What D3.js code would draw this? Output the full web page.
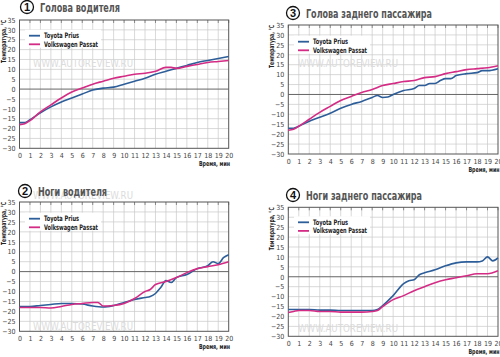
<!DOCTYPE html>
<html><head><meta charset="utf-8">
<script src="https://cdn.jsdelivr.net/npm/d3@7"></script>
<style>body{margin:0;background:#fff}svg{display:block}</style>
</head><body>
<svg id="c" width="500" height="357"></svg>
<script>
const xTicks = d3.range(0, 21);
const yTicks = [35,30,25,20,15,10,5,0,-5,-10,-15,-20,-25,-30];
const seriesNames = ["Toyota Prius", "Volkswagen Passat"];
const titles = ["Голова водителя", "Ноги водителя", "Голова заднего пассажира", "Ноги заднего пассажира"];
const numbers = ["1", "2", "3", "4"];

// Panel 1: Голова водителя
const p1PriusT = [0,0.5,1,2,3,4,5,6,7,8,9,10,11,12,13,14,15,16,17,18,19,20];
const p1PriusV = [-17,-17,-15.5,-12,-9,-6.5,-4.5,-2.5,-0.5,0.5,1,2.5,4,5.5,7.5,9,10.5,12,13.5,14.5,15.5,16.5];
const p1PassatT = [0,0.5,1,2,3,4,5,6,7,8,9,10,11,12,13,14,14.5,15,16,17,18,19,20];
const p1PassatV = [-18,-17.5,-16,-11.5,-8,-4.5,-1.5,0.5,2.5,4,5.5,6.5,7.5,8,9,11,11,10.5,11.5,12.5,13.5,14,14.5];

// Panel 2: Ноги водителя
const p2PriusT = [0,1,2,3,4,5,6,7,8,9,10,11,12,12.5,13,13.5,14,14.5,15,16,17,18,18.5,19,19.5,20];
const p2PriusV = [-17.5,-17.5,-17,-16.5,-16,-16,-16.3,-17.3,-17.8,-17,-15.5,-14,-13,-12.5,-11,-8,-4.5,-5.5,-3,-1.5,1.5,3,5,4,7,8.5];
const p2PassatT = [0,1,2,3,4,5,6,7,7.5,8,9,10,11,12,12.5,13,14,15,16,17,18,19,20];
const p2PassatV = [-18,-18,-18,-18.3,-17.5,-16.5,-16,-15.5,-15.5,-17.3,-17,-16,-13.5,-10,-9,-6.5,-5,-3,-0.5,1.5,2.5,3.5,5];

// Panel 3: Голова заднего пассажира
const p3PriusT = [0,0.5,1,2,3,4,5,6,7,8,8.5,9,9.5,10,11,12,12.5,13,13.5,14,14.5,15,15.5,16,17,18,18.5,19,20];
const p3PriusV = [-17,-17,-16,-13.5,-11.5,-9.5,-7,-5,-3.5,-1.5,-0.5,-1.5,-1.3,0,2,3,4.5,4.5,5.5,5.5,7,8,8,9.5,10.5,11,12,12,13];
const p3PassatT = [0,0.5,1,2,3,4,5,6,7,8,9,10,11,12,13,14,15,16,17,18,19,20];
const p3PassatV = [-18,-17.5,-16,-12.5,-9,-6,-3,-1,1,2.5,4.5,5.5,6.5,7,8.5,9,10.5,11.5,12.5,13,13.5,14.5];

// Panel 4: Ноги заднего пассажира
const p4PriusT = [0,1,2,3,4,5,6,7,8,8.5,9,10,11,11.5,12,12.5,13,14,15,16,17,18,18.5,19,19.5,20];
const p4PriusV = [-16.5,-16.5,-16.5,-16.8,-16.8,-17,-17,-17,-17,-16.5,-14.5,-9.5,-3.5,-2,-1.5,1,2,3.5,5.5,7,7.5,7.5,8,10,8,9.5];
const p4PassatT = [0,0.5,1,2,3,4,5,6,7,8,8.5,9,10,11,12,13,14,15,16,17,18,19,20];
const p4PassatV = [-18,-17.5,-17,-17,-17.5,-17.5,-17.8,-17.8,-17.8,-17.5,-17,-15,-11.5,-9.5,-7,-5,-3,-1.5,-0.5,0.5,1.5,1.5,3];

const colors = ["#2d5e99", "#d42c85"];

const panels = [
  {n:0, l:19.5, r:228.7, t:20, b:148.3, tx:27, ty:7, tw:80, lgx:29, lgy:35.7, wm:[[33,63]], xl:230,
   s:[[p1PriusT,p1PriusV],[p1PassatT,p1PassatV]]},
  {n:1, l:19.5, r:228.7, t:202, b:331.3, tx:25, ty:191, tw:69, lgx:29, lgy:218.7, wm:[[33,195],[33,326]], xl:230,
   s:[[p2PriusT,p2PriusV],[p2PassatT,p2PassatV]]},
  {n:2, l:288.3, r:498, t:25, b:154, tx:293, ty:13, tw:126, lgx:298, lgy:41.7, wm:[[298,63]], xl:499.5,
   s:[[p3PriusT,p3PriusV],[p3PassatT,p3PassatV]]},
  {n:3, l:288.3, r:498, t:207.3, b:336.3, tx:293, ty:195, tw:116, lgx:298, lgy:222.3, wm:[[298,328]], xl:499.5,
   s:[[p4PriusT,p4PriusV],[p4PassatT,p4PassatV]]}
];

const svg = d3.select("#c");
const font = "'Liberation Sans Narrow','DejaVu Sans Condensed','Liberation Sans',sans-serif";

panels.forEach(p => {
  const g = svg.append("g");
  const x = d3.scaleLinear().domain([0,20]).range([p.l,p.r]);
  const y = d3.scaleLinear().domain([-30,35]).range([p.b,p.t]);

  // grid
  g.append("g").selectAll("line").data(xTicks.slice(1,-1)).join("line")
    .attr("x1", d=>x(d)).attr("x2", d=>x(d)).attr("y1", p.t).attr("y2", p.b)
    .attr("stroke", "#c8c8c8").attr("stroke-width", 0.7);
  g.append("g").selectAll("line").data(yTicks.filter(d=>d!==0 && d!==35 && d!==-30)).join("line")
    .attr("x1", p.l).attr("x2", p.r).attr("y1", d=>y(d)).attr("y2", d=>y(d))
    .attr("stroke", "#c8c8c8").attr("stroke-width", 0.7);

  // watermark
  p.wm.forEach(w => g.append("text").attr("x", w[0]).attr("y", w[1]+4)
    .attr("font-family", font).attr("font-size", 11).attr("fill", "#dcdcdc")
    .attr("textLength", 100).attr("lengthAdjust", "spacingAndGlyphs").text("WWW.AUTOREVIEW.RU"));

  // top ticks
  g.append("g").selectAll("line").data(xTicks).join("line")
    .attr("x1", d=>x(d)).attr("x2", d=>x(d)).attr("y1", p.t).attr("y2", p.t+3)
    .attr("stroke", "#666").attr("stroke-width", 0.7);
  // zero line
  g.append("line").attr("x1", p.l).attr("x2", p.r).attr("y1", y(0)).attr("y2", y(0))
    .attr("stroke", "#666").attr("stroke-width", 1);
  // frame
  g.append("rect").attr("x", p.l).attr("y", p.t).attr("width", p.r-p.l).attr("height", p.b-p.t)
    .attr("fill", "none").attr("stroke", "#555").attr("stroke-width", 1);

  // legend box
  g.append("rect").attr("x", p.lgx-4).attr("y", p.lgy-6).attr("width", 76).attr("height", 18)
    .attr("fill", "#fff");
  const lw = [35, 54];
  seriesNames.forEach((nm,i) => {
    const ly = p.lgy + i*8.6;
    g.append("line").attr("x1", p.lgx).attr("x2", p.lgx+11).attr("y1", ly).attr("y2", ly)
      .attr("stroke", colors[i]).attr("stroke-width", 1.8);
    g.append("text").attr("x", p.lgx+15).attr("y", ly+2.5).attr("font-family", font)
      .attr("font-size", 7.5).attr("font-weight", "bold").attr("fill", "#222")
      .attr("textLength", lw[i]).attr("lengthAdjust", "spacingAndGlyphs").text(nm);
  });

  // axes labels
  const ya = d3.axisLeft(y).tickValues(yTicks).tickSize(0).tickPadding(4);
  const yg = g.append("g").attr("transform", `translate(${p.l},0)`).call(ya);
  yg.select(".domain").remove();
  yg.selectAll("text").attr("font-family", font).attr("font-size", 7).attr("fill", "#444");
  const xa = d3.axisBottom(x).tickValues(xTicks).tickSize(0).tickPadding(5);
  const xg = g.append("g").attr("transform", `translate(0,${p.b})`).call(xa);
  xg.select(".domain").remove();
  xg.selectAll("text").attr("font-family", font).attr("font-size", 7).attr("fill", "#444");

  g.append("text").attr("transform", `translate(${p.l-14},${p.t}) rotate(-90)`)
    .attr("text-anchor", "end").attr("font-family", font).attr("font-size", 7)
    .attr("font-weight", "bold").attr("fill", "#222")
    .attr("textLength", 43).attr("lengthAdjust", "spacingAndGlyphs").text("Температура, °С");
  g.append("text").attr("x", p.xl).attr("y", p.b+18).attr("text-anchor", "end")
    .attr("font-family", font).attr("font-size", 7).attr("font-weight", "bold")
    .attr("fill", "#222").attr("textLength", 31).attr("lengthAdjust", "spacingAndGlyphs").text("Время, мин");

  // lines
  const line = d3.line().x(d=>x(d[0])).y(d=>y(d[1])).curve(d3.curveMonotoneX);
  p.s.forEach((s,i) => {
    const pts = s[0].map((t,k)=>[t, s[1][k]]);
    g.append("path").attr("d", line(pts)).attr("fill", "none")
      .attr("stroke", colors[i]).attr("stroke-width", 1.6);
  });

  // title
  g.append("circle").attr("cx", p.tx).attr("cy", p.ty).attr("r", 6.5)
    .attr("fill", "#fff").attr("stroke", "#111").attr("stroke-width", 1.3);
  g.append("text").attr("x", p.tx).attr("y", p.ty+4).attr("text-anchor", "middle")
    .attr("font-family", "'Liberation Sans',sans-serif").attr("font-size", 11).attr("font-weight", "bold")
    .attr("fill", "#111").text(numbers[p.n]);
  g.append("text").attr("x", p.tx+13).attr("y", p.ty+5).attr("font-family", font)
    .attr("font-size", 12).attr("font-weight", "bold").attr("fill", "#555")
    .attr("textLength", p.tw).attr("lengthAdjust", "spacingAndGlyphs").text(titles[p.n]);
});
</script>
</body></html>
